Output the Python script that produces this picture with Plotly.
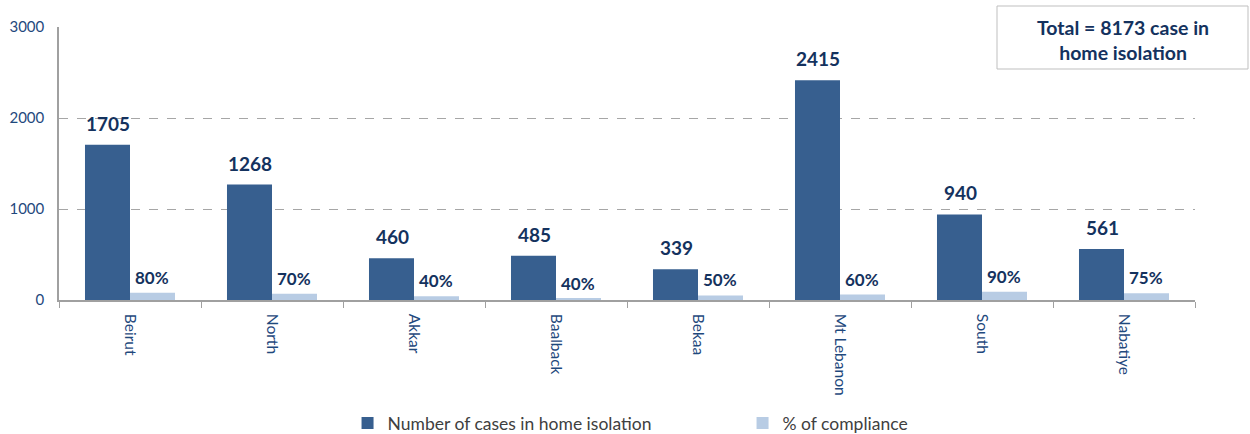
import plotly.graph_objects as go

categories = ["Beirut", "North", "Akkar", "Baalback", "Bekaa", "Mt Lebanon", "South", "Nabatiye"]
cases = [1705, 1268, 460, 485, 339, 2415, 940, 561]
compliance_bar = [80, 70, 40, 12, 50, 60, 90, 75]
compliance_labels = ["80%", "70%", "40%", "40%", "50%", "60%", "90%", "75%"]
y_ticks = [0, 1000, 2000, 3000]

dark = "#375F8F"
light = "#B8CCE4"
navy = "#14325E"
font_family = "Lato, 'Open Sans', sans-serif"

fig = go.Figure()
fig.add_trace(go.Bar(
    x=categories, y=cases, name="Number of cases in home isolation",
    marker=dict(color=dark, line=dict(width=0)),
))
fig.add_trace(go.Bar(
    x=categories, y=compliance_bar, name="% of compliance",
    marker=dict(color=light, line=dict(width=0)),
))

for cat, v in zip(categories, cases):
    fig.add_annotation(x=cat, y=v, xshift=-22, yshift=8, yanchor="bottom", showarrow=False,
                       text=f"<b>{v}</b>", font=dict(family=font_family, size=19, color=navy))
for cat, v, lab in zip(categories, compliance_bar, compliance_labels):
    fig.add_annotation(x=cat, y=v, xshift=22, yshift=3, yanchor="bottom", showarrow=False,
                       text=f"<b>{lab}</b>", font=dict(family=font_family, size=17, color=navy))

fig.update_layout(
    width=1250, height=434,
    margin=dict(l=59, r=55, t=27, b=134, autoexpand=False),
    paper_bgcolor="white", plot_bgcolor="white",
    barmode="group", bargap=0.366, bargroupgap=0,
    font=dict(family=font_family, color="#1F497D"),
    showlegend=True,
    legend=dict(orientation="h", x=0.254, xanchor="left", y=-0.385, yanchor="top",
                font=dict(size=17.5, color="#404040"), entrywidth=350, entrywidthmode="pixels",
                itemwidth=30),
)
fig.update_xaxes(
    showline=True, linecolor="#A0A0A0", linewidth=1.5,
    ticks="outside", tickson="boundaries", ticklen=6, tickcolor="#A0A0A0",
    tickangle=90, tickfont=dict(size=15.5, color="#1F497D"), ticklabelstandoff=9,
    showgrid=False, automargin=False,
)
fig.update_yaxes(
    range=[0, 3000], tickvals=y_ticks, ticktext=[str(v) for v in y_ticks],
    showline=True, linecolor="#A0A0A0", linewidth=1.5,
    showgrid=True, gridcolor="#A6A6A6", griddash="dash", gridwidth=1,
    ticks="", tickfont=dict(size=15, color="#1F497D"), zeroline=False,
    ticklabelstandoff=10, automargin=False,
)
# text box (top right)
fig.add_shape(type="rect", xref="paper", yref="paper",
              x0=(997 - 59) / 1136, x1=(1248 - 59) / 1136,
              y0=(300 - 69) / 273, y1=(300 - 6) / 273,
              line=dict(color="#BFBFBF", width=1), fillcolor="white", layer="above")
fig.add_annotation(
    xref="paper", yref="paper", x=(1123 - 59) / 1136, y=(300 - 40) / 273,
    xanchor="center", yanchor="middle",
    text="<b>Total = 8173 case in<br>home isolation</b>", showarrow=False,
    font=dict(family=font_family, size=19.5, color=navy), align="center",
)
fig.write_html("out.html", config={"displayModeBar": False},
               post_script="document.body.style.margin='0';")
